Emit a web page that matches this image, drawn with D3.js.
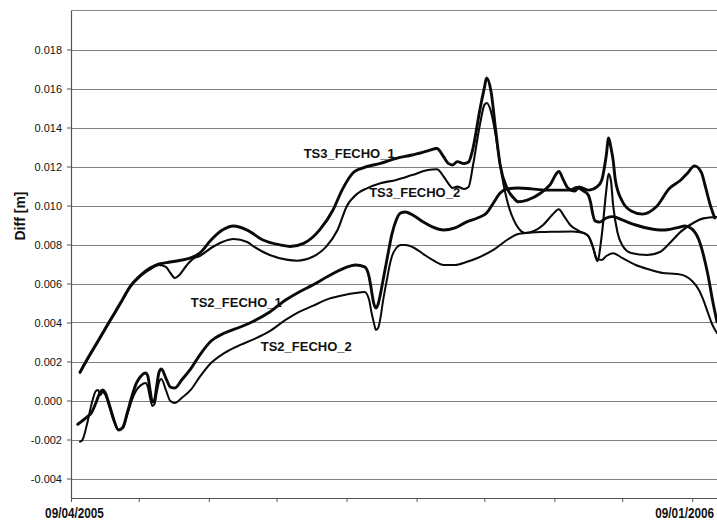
<!DOCTYPE html>
<html>
<head>
<meta charset="utf-8">
<script src="https://cdn.jsdelivr.net/npm/d3@7"></script>
<style>
  body { margin: 0; background: #fff; }
  svg { display: block; }
</style>
</head>
<body>
<div id="chart"></div>
<script>
// values: [date, diff in metres]
const ts3Fecho1 = [
  ["2005-04-13",0.00146],["2005-04-17",0.00228],["2005-04-22",0.00326],["2005-04-26",0.00405],
  ["2005-05-01",0.00502],["2005-05-05",0.00582],["2005-05-10",0.00644],["2005-05-14",0.00679],
  ["2005-05-18",0.00700],["2005-05-23",0.00710],["2005-05-27",0.00718],["2005-06-01",0.00731],
  ["2005-06-05",0.00756],["2005-06-10",0.00823],["2005-06-15",0.00874],["2005-06-20",0.00895],
  ["2005-06-26",0.00874],["2005-07-03",0.00823],["2005-07-11",0.00797],["2005-07-15",0.00790],
  ["2005-07-21",0.00806],["2005-07-28",0.00874],["2005-08-03",0.00977],["2005-08-07",0.01079],
  ["2005-08-12",0.01169],["2005-08-16",0.01192],["2005-08-24",0.01216],["2005-08-31",0.01242],
  ["2005-09-07",0.01259],["2005-09-14",0.01280],["2005-09-18",0.01292],["2005-09-21",0.01249],
  ["2005-09-23",0.01216],["2005-09-25",0.01208],["2005-09-27",0.01225],["2005-09-30",0.01215],
  ["2005-10-02",0.01223],["2005-10-04",0.01295],["2005-10-07",0.01490],["2005-10-09",0.01603],
  ["2005-10-10",0.01654],["2005-10-12",0.01582],["2005-10-14",0.01387],["2005-10-16",0.01208],
  ["2005-10-19",0.01090],["2005-10-22",0.01038],["2005-10-24",0.01019],["2005-10-28",0.01028],
  ["2005-11-03",0.01064],["2005-11-07",0.01105],["2005-11-11",0.01174],["2005-11-13",0.01131],
  ["2005-11-15",0.01090],["2005-11-18",0.01074],["2005-11-20",0.01095],["2005-11-24",0.01079],
  ["2005-11-28",0.01097],["2005-11-30",0.01131],["2005-12-02",0.01259],["2005-12-03",0.01346],
  ["2005-12-04",0.01300],["2005-12-05",0.01233],["2005-12-06",0.01131],["2005-12-09",0.01023],
  ["2005-12-13",0.00972],["2005-12-18",0.00956],["2005-12-24",0.00992],["2005-12-30",0.01088],
  ["2006-01-04",0.01131],["2006-01-07",0.01167],["2006-01-10",0.01203],["2006-01-13",0.01172],
  ["2006-01-15",0.01090],["2006-01-17",0.01003],["2006-01-19",0.00936]
];
const ts3Fecho2 = [
  ["2005-04-13",0.00142],["2005-04-17",0.00224],["2005-04-22",0.00322],["2005-04-26",0.00401],
  ["2005-05-01",0.00498],["2005-05-05",0.00578],["2005-05-10",0.00640],["2005-05-14",0.00672],
  ["2005-05-18",0.00695],["2005-05-21",0.00685],["2005-05-23",0.00654],["2005-05-25",0.00628],
  ["2005-05-27",0.00644],["2005-05-30",0.00690],["2005-06-02",0.00726],["2005-06-05",0.00741],
  ["2005-06-10",0.00782],["2005-06-15",0.00813],["2005-06-20",0.00828],["2005-06-26",0.00813],
  ["2005-06-29",0.00789],["2005-07-06",0.00746],["2005-07-14",0.00721],["2005-07-18",0.00717],
  ["2005-07-25",0.00737],["2005-07-31",0.00789],["2005-08-05",0.00874],["2005-08-09",0.00994],
  ["2005-08-14",0.01063],["2005-08-18",0.01088],["2005-08-24",0.01114],["2005-08-31",0.01131],
  ["2005-09-07",0.01156],["2005-09-14",0.01182],["2005-09-18",0.01186],["2005-09-21",0.01148],
  ["2005-09-23",0.01114],["2005-09-25",0.01090],["2005-09-27",0.01097],["2005-09-30",0.01085],
  ["2005-10-02",0.01095],["2005-10-04",0.01208],["2005-10-07",0.01413],["2005-10-09",0.01515],
  ["2005-10-10",0.01526],["2005-10-12",0.01479],["2005-10-14",0.01362],["2005-10-16",0.01208],
  ["2005-10-18",0.01079],["2005-10-20",0.00987],["2005-10-22",0.00926],["2005-10-24",0.00885],
  ["2005-10-27",0.00859],["2005-10-31",0.00869],["2005-11-04",0.00900],["2005-11-08",0.00951],
  ["2005-11-11",0.00981],["2005-11-13",0.00951],["2005-11-16",0.00900],["2005-11-20",0.00869],
  ["2005-11-24",0.00844],["2005-11-26",0.00792],["2005-11-28",0.00715],["2005-11-30",0.00849],
  ["2005-12-02",0.01079],["2005-12-03",0.01162],["2005-12-04",0.01131],["2005-12-05",0.01003],
  ["2005-12-07",0.00859],["2005-12-09",0.00797],["2005-12-13",0.00756],["2005-12-20",0.00746],
  ["2005-12-26",0.00763],["2005-12-30",0.00806],["2006-01-04",0.00866],["2006-01-08",0.00900],
  ["2006-01-14",0.00934],["2006-01-20",0.00941]
];
const ts2Fecho1 = [
  ["2005-04-12",-0.00122],["2005-04-16",-0.00085],["2005-04-18",-0.00064],["2005-04-20",-0.00013],
  ["2005-04-22",0.00044],["2005-04-23",0.00054],["2005-04-24",0.00044],["2005-04-26",-0.00023],
  ["2005-04-28",-0.00100],["2005-04-30",-0.00151],["2005-05-02",-0.00136],["2005-05-04",-0.00059],
  ["2005-05-06",0.00023],["2005-05-08",0.00090],["2005-05-10",0.00126],["2005-05-12",0.00141],
  ["2005-05-13",0.00126],["2005-05-14",0.00054],["2005-05-15",-0.00008],["2005-05-16",0.00003],
  ["2005-05-17",0.00079],["2005-05-18",0.00146],["2005-05-19",0.00162],["2005-05-21",0.00115],
  ["2005-05-23",0.00069],["2005-05-25",0.00064],["2005-05-28",0.00105],["2005-06-01",0.00162],
  ["2005-06-05",0.00233],["2005-06-10",0.00305],["2005-06-16",0.00346],["2005-06-23",0.00377],
  ["2005-06-29",0.00408],["2005-07-06",0.00454],["2005-07-13",0.00515],["2005-07-19",0.00556],
  ["2005-07-25",0.00592],["2005-08-01",0.00638],["2005-08-08",0.00679],["2005-08-13",0.00695],
  ["2005-08-17",0.00685],["2005-08-19",0.00633],["2005-08-20",0.00567],["2005-08-21",0.00500],
  ["2005-08-22",0.00474],["2005-08-23",0.00495],["2005-08-24",0.00546],["2005-08-25",0.00608],
  ["2005-08-26",0.00669],["2005-08-27",0.00731],["2005-08-28",0.00792],["2005-08-29",0.00849],
  ["2005-08-31",0.00926],["2005-09-02",0.00962],["2005-09-04",0.00967],["2005-09-08",0.00946],
  ["2005-09-12",0.00915],["2005-09-16",0.00890],["2005-09-21",0.00874],["2005-09-26",0.00885],
  ["2005-10-01",0.00915],["2005-10-06",0.00936],["2005-10-10",0.00962],["2005-10-13",0.01013],
  ["2005-10-16",0.01064],["2005-10-19",0.01085],["2005-10-24",0.01090],["2005-10-30",0.01085],
  ["2005-11-05",0.01079],["2005-11-11",0.01079],["2005-11-16",0.01079],["2005-11-19",0.01092],
  ["2005-11-22",0.01074],["2005-11-24",0.01054],["2005-11-25",0.01018],["2005-11-26",0.00956],
  ["2005-11-27",0.00921],["2005-11-29",0.00915],["2005-12-02",0.00936],["2005-12-05",0.00943],
  ["2005-12-09",0.00926],["2005-12-15",0.00900],["2005-12-21",0.00882],["2005-12-27",0.00874],
  ["2006-01-02",0.00885],["2006-01-06",0.00895],["2006-01-09",0.00879],["2006-01-12",0.00823],
  ["2006-01-14",0.00746],["2006-01-16",0.00644],["2006-01-18",0.00515],["2006-01-20",0.00403]
];
const ts2Fecho2 = [
  ["2005-04-13",-0.00211],["2005-04-14",-0.00203],["2005-04-16",-0.00126],["2005-04-18",-0.00023],
  ["2005-04-20",0.00049],["2005-04-21",0.00054],["2005-04-22",0.00028],["2005-04-23",0.00044],
  ["2005-04-24",0.00033],["2005-04-26",-0.00033],["2005-04-28",-0.00105],["2005-04-30",-0.00151],
  ["2005-05-02",-0.00141],["2005-05-04",-0.00069],["2005-05-06",0.00003],["2005-05-08",0.00054],
  ["2005-05-10",0.00079],["2005-05-12",0.00090],["2005-05-13",0.00069],["2005-05-14",0.00013],
  ["2005-05-15",-0.00028],["2005-05-16",-0.00018],["2005-05-17",0.00044],["2005-05-18",0.00095],
  ["2005-05-19",0.00110],["2005-05-21",0.00054],["2005-05-23",-0.00003],["2005-05-25",-0.00013],
  ["2005-05-28",0.00013],["2005-06-01",0.00054],["2005-06-05",0.00121],["2005-06-10",0.00192],
  ["2005-06-16",0.00244],["2005-06-23",0.00285],["2005-06-29",0.00315],["2005-07-06",0.00356],
  ["2005-07-13",0.00413],["2005-07-19",0.00454],["2005-07-25",0.00485],["2005-08-01",0.00521],
  ["2005-08-08",0.00541],["2005-08-13",0.00551],["2005-08-17",0.00556],["2005-08-19",0.00515],
  ["2005-08-20",0.00454],["2005-08-21",0.00403],["2005-08-22",0.00362],["2005-08-23",0.00372],
  ["2005-08-24",0.00423],["2005-08-25",0.00500],["2005-08-26",0.00567],["2005-08-27",0.00628],
  ["2005-08-28",0.00690],["2005-08-29",0.00736],["2005-08-31",0.00782],["2005-09-02",0.00797],
  ["2005-09-04",0.00797],["2005-09-08",0.00782],["2005-09-12",0.00751],["2005-09-16",0.00721],
  ["2005-09-21",0.00695],["2005-09-26",0.00695],["2005-10-01",0.00710],["2005-10-06",0.00731],
  ["2005-10-13",0.00772],["2005-10-19",0.00823],["2005-10-24",0.00854],["2005-10-30",0.00862],
  ["2005-11-05",0.00864],["2005-11-11",0.00866],["2005-11-17",0.00867],["2005-11-22",0.00859],
  ["2005-11-24",0.00844],["2005-11-26",0.00787],["2005-11-28",0.00726],["2005-11-30",0.00721],
  ["2005-12-02",0.00741],["2005-12-05",0.00755],["2005-12-09",0.00731],["2005-12-15",0.00695],
  ["2005-12-21",0.00672],["2005-12-27",0.00654],["2006-01-02",0.00649],["2006-01-06",0.00638],
  ["2006-01-09",0.00613],["2006-01-12",0.00567],["2006-01-14",0.00515],["2006-01-16",0.00449],
  ["2006-01-18",0.00387],["2006-01-20",0.00346]
];

const xDomain = ["2005-04-09", "2006-01-20"];
const xTickDates = ["2005-04-09","2005-05-09","2005-06-09","2005-07-09","2005-08-09",
                    "2005-09-09","2005-10-09","2005-11-09","2005-12-09","2006-01-09"];
const xLabelDates = ["2005-04-09", "2006-01-09"];
const yDomain = [-0.005, 0.020];
const yTicks = [-0.004,-0.002,0.000,0.002,0.004,0.006,0.008,0.010,0.012,0.014,0.016,0.018];

const seriesNames = ["TS3_FECHO_1", "TS3_FECHO_2", "TS2_FECHO_1", "TS2_FECHO_2"];
const seriesData = [ts3Fecho1, ts3Fecho2, ts2Fecho1, ts2Fecho2];
const seriesWidths = [2.9, 2.1, 2.9, 2.0];
// label anchors (date, value) for the in-plot names
const labelDates = ["2005-07-21", "2005-08-19", "2005-06-01", "2005-07-02"];
const labelValues = [0.01246, 0.01044, 0.00482, 0.00256];

const width = 717, height = 520;
const plot = {l: 71, r: 717, t: 10.5, b: 498};
const parse = d3.timeParse("%Y-%m-%d");
const fmt = d3.timeFormat("%d/%m/%Y");
const fontSans = "'Liberation Sans', Arial, sans-serif";

const svg = d3.select("#chart").append("svg")
    .attr("width", width)
    .attr("height", height);
svg.append("rect").attr("width", width).attr("height", height).attr("fill", "#fff");

const x = d3.scaleTime().domain(xDomain.map(parse)).range([plot.l, plot.r]);
const y = d3.scaleLinear().domain(yDomain).range([plot.b, plot.t]);

// gridlines
svg.append("g").selectAll("line")
    .data(yTicks)
    .enter().append("line")
    .attr("x1", plot.l).attr("x2", plot.r)
    .attr("y1", d => Math.round(y(d)) + 0.5)
    .attr("y2", d => Math.round(y(d)) + 0.5)
    .attr("stroke", "#808080")
    .attr("stroke-width", 1.2);

// top frame line
svg.append("line")
    .attr("x1", plot.l).attr("x2", plot.r)
    .attr("y1", 10.5).attr("y2", 10.5)
    .attr("stroke", "#888").attr("stroke-width", 1.2);

// y axis
const yAxis = svg.append("g")
    .attr("transform", `translate(${plot.l},0)`)
    .call(d3.axisLeft(y).tickValues(yTicks).tickSize(4).tickSizeOuter(0).tickPadding(5)
        .tickFormat(d => d.toFixed(3)));
yAxis.select(".domain").attr("stroke", "#555").attr("stroke-width", 1.2);
yAxis.selectAll(".tick line").attr("stroke", "#555");
yAxis.selectAll("text")
    .attr("font-family", fontSans)
    .attr("font-size", "11px")
    .attr("fill", "#111");

// x axis, only first and last tick labelled
const labelled = new Set(xLabelDates);
const key = d3.timeFormat("%Y-%m-%d");
const xAxis = svg.append("g")
    .attr("transform", `translate(0,${plot.b})`)
    .call(d3.axisBottom(x).tickValues(xTickDates.map(parse)).tickSize(4).tickSizeOuter(0)
        .tickPadding(6)
        .tickFormat(d => labelled.has(key(d)) ? fmt(d) : ""));
xAxis.select(".domain").attr("stroke", "#555").attr("stroke-width", 1.2);
xAxis.selectAll(".tick line").attr("stroke", "#555");
// condensed bold look: squeeze the glyphs horizontally
xAxis.selectAll("text")
    .attr("font-family", fontSans)
    .attr("font-weight", "bold")
    .attr("font-size", "14px")
    .attr("fill", "#111")
    .filter(function() { return this.textContent !== ""; })
    .attr("transform", (d, i) => `translate(${i === 0 ? 3 : -8},0) scale(0.84,1)`);

// y title
svg.append("text")
    .attr("transform", "translate(25,216) rotate(-90)")
    .attr("text-anchor", "middle")
    .attr("font-family", fontSans)
    .attr("font-weight", "bold")
    .attr("font-size", "14px")
    .attr("fill", "#111")
    .text("Diff [m]");

// lines
const line = d3.line()
    .x(d => x(parse(d[0])))
    .y(d => y(d[1]))
    .curve(d3.curveMonotoneX);

const lines = svg.append("g");
seriesData.forEach(function(data, i) {
    lines.append("path")
        .attr("d", line(data))
        .attr("fill", "none")
        .attr("stroke", "#0a0a0a")
        .attr("stroke-width", seriesWidths[i])
        .attr("stroke-linejoin", "round")
        .attr("stroke-linecap", "round");
});

// series names
seriesNames.forEach(function(name, i) {
    svg.append("text")
        .attr("x", x(parse(labelDates[i])))
        .attr("y", y(labelValues[i]))
        .attr("font-family", fontSans)
        .attr("font-weight", "bold")
        .attr("font-size", "13px")
        .attr("fill", "#111")
        .text(name);
});
</script>
</body>
</html>
